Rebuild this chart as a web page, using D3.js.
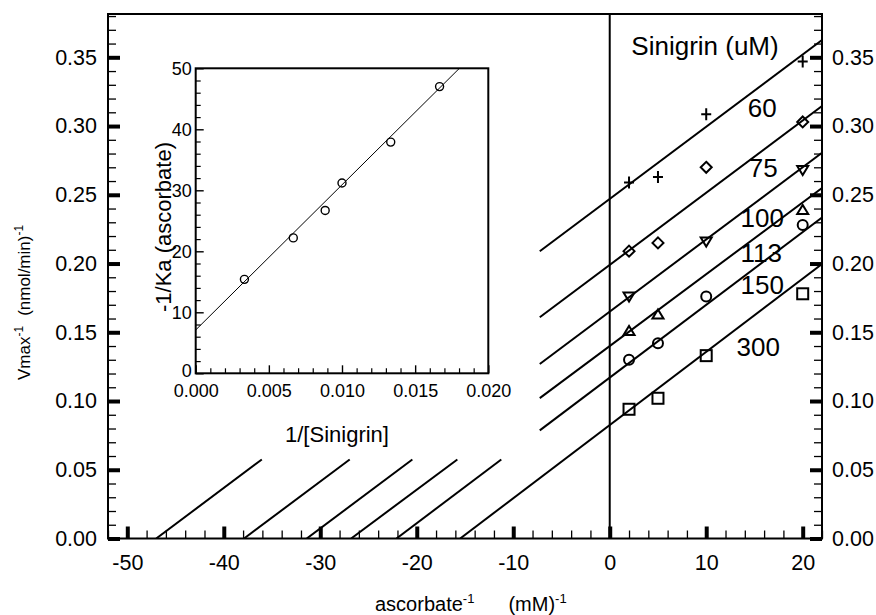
<!DOCTYPE html>
<html>
<head>
<meta charset="utf-8">
<script src="https://cdn.jsdelivr.net/npm/d3@7"></script>
<style>
  html, body { margin: 0; padding: 0; background: #fff; }
  svg { display: block; font-family: "Liberation Sans", Arial, Helvetica, sans-serif; }
  .axis path.domain { display: none; }
  .axis text { fill: #000; }
</style>
</head>
<body>
<svg id="chart" width="876" height="615"></svg>
<script>
// Sinigrin concentrations (uM), one fitted line per concentration
const sinigrin = [60, 75, 100, 113, 150, 300];
// Reciprocal ascorbate concentrations where rates were measured, (mM)^-1
const ascorbateInv = [2, 5, 10, 20];
// 1/V measured for each sinigrin level (null = no point)
const rate60  = [0.259, 0.263, 0.3085, 0.347];
const rate75  = [0.209, 0.215, 0.270, 0.303];
const rate100 = [0.176, null, 0.216, 0.268];
const rate113 = [0.151, 0.163, null, 0.239];
const rate150 = [0.130, 0.142, 0.176, 0.228];
const rate300 = [0.094, 0.102, 0.133, 0.178];
// Fitted lines: y-intercept (1/Vmax) and x-intercept (-1/Ka)
const lineIntercept = [0.247, 0.199, 0.165, 0.140, 0.117, 0.0825];
const lineXIntercept = [-47.0, -37.9, -31.4, -26.8, -22.1, -15.5];

// Secondary plot: -1/Ka against 1/[Sinigrin]
const insetX = [0.00333, 0.00667, 0.00885, 0.0100, 0.01333, 0.01667];
const insetY = [15.4, 22.2, 26.7, 31.2, 37.9, 47.0];
const insetFitIntercept = 7.1;
const insetFitSlope = 2380;

// Tick values
const xMajorTicks = [-50, -40, -30, -20, -10, 0, 10, 20];
const yMajorTicks = [0, 0.05, 0.10, 0.15, 0.20, 0.25, 0.30, 0.35];
const insetXTicks = [0, 0.005, 0.010, 0.015, 0.020];
const insetYTicks = [0, 10, 20, 30, 40, 50];

const rates = [rate60, rate75, rate100, rate113, rate150, rate300];
const markerKinds = ["plus", "diamond", "triDown", "triUp", "circle", "square"];

const svg = d3.select("#chart");
const defs = svg.append("defs");

// ---- main plot scales ----
const x = d3.scaleLinear().domain([-52, 22]).range([108, 822]);
const y = d3.scaleLinear().domain([0, 0.3815]).range([538.5, 14]);
const [x0, x1] = x.range();
const [yb, yt] = y.range();

const main = svg.append("g");

defs.append("clipPath").attr("id", "mainClip")
  .append("rect").attr("x", x0).attr("y", yt).attr("width", x1 - x0).attr("height", yb - yt);

// minor ticks
const minorX = d3.range(-52, 23, 2).filter(v => !xMajorTicks.includes(v));
const minorY = d3.range(0, 0.381, 0.01).map(v => +v.toFixed(2))
  .filter(v => !yMajorTicks.some(t => Math.abs(t - v) < 1e-9));

function styleTicks(g, w) {
  g.selectAll(".tick line").attr("stroke", "#000").attr("stroke-width", w);
}
const plain = d => String(d);   // hyphen minus, as printed on the axis

main.append("g").attr("class", "axis").attr("transform", `translate(0,${yb})`)
  .call(d3.axisBottom(x).tickValues(minorX).tickSize(-8).tickFormat(""))
  .call(g => styleTicks(g, 1.3));
main.append("g").attr("class", "axis").attr("transform", `translate(0,${yb})`)
  .call(d3.axisBottom(x).tickValues(xMajorTicks).tickSize(-12).tickPadding(16).tickFormat(plain))
  .call(g => styleTicks(g, 4))
  .call(g => g.selectAll("text").attr("font-size", 21.5));

[[d3.axisLeft, x0, 11], [d3.axisRight, x1, 10]].forEach(([ax, px, pad]) => {
  main.append("g").attr("class", "axis").attr("transform", `translate(${px},0)`)
    .call(ax(y).tickValues(minorY).tickSize(-8).tickFormat(""))
    .call(g => styleTicks(g, 1.3));
  main.append("g").attr("class", "axis").attr("transform", `translate(${px},0)`)
    .call(ax(y).tickValues(yMajorTicks).tickSize(-12).tickPadding(pad).tickFormat(d3.format(".2f")))
    .call(g => styleTicks(g, 4))
    .call(g => g.selectAll("text").attr("font-size", 21.5));
});

// frame
main.append("rect").attr("x", x0).attr("y", yt).attr("width", x1 - x0).attr("height", yb - yt)
  .attr("fill", "none").attr("stroke", "#000").attr("stroke-width", 2);

// vertical line at x = 0
main.append("line").attr("x1", x(0)).attr("x2", x(0)).attr("y1", yb).attr("y2", yt)
  .attr("stroke", "#000").attr("stroke-width", 2);

// fitted lines, interrupted where the secondary plot sits
const breakY = 0.0575;   // lower pieces stop here
const resumeX = -7.25;   // upper pieces start here
const lineG = main.append("g").attr("clip-path", "url(#mainClip)");
sinigrin.forEach((s, i) => {
  const b = lineIntercept[i], xi = lineXIntercept[i];
  const slope = b / -xi;
  const f = v => b + slope * v;
  const pieces = [];
  if (s === 300) {
    pieces.push([[xi, 0], [22, f(22)]]);
  } else {
    pieces.push([[xi, 0], [(breakY - b) / slope, breakY]]);
    pieces.push([[resumeX, f(resumeX)], [22, f(22)]]);
  }
  pieces.forEach(p => {
    lineG.append("path")
      .attr("d", d3.line().x(d => x(d[0])).y(d => y(d[1]))(p))
      .attr("fill", "none").attr("stroke", "#000").attr("stroke-width", 2);
  });
});

// markers
function marker(g, kind, cx, cy) {
  let el;
  if (kind === "plus") {
    el = g.append("path").attr("d", `M${cx - 5},${cy}H${cx + 5}M${cx},${cy - 6}V${cy + 6}`);
  } else if (kind === "diamond") {
    el = g.append("path").attr("d", `M${cx},${cy - 5.5}L${cx + 5.5},${cy}L${cx},${cy + 5.5}L${cx - 5.5},${cy}Z`);
  } else if (kind === "triDown") {
    el = g.append("path").attr("d", `M${cx - 5.5},${cy - 4}L${cx + 5.5},${cy - 4}L${cx},${cy + 5}Z`);
  } else if (kind === "triUp") {
    el = g.append("path").attr("d", `M${cx - 5.5},${cy + 4}L${cx + 5.5},${cy + 4}L${cx},${cy - 5}Z`);
  } else if (kind === "circle") {
    el = g.append("circle").attr("cx", cx).attr("cy", cy).attr("r", 5);
  } else {
    el = g.append("rect").attr("x", cx - 5.5).attr("y", cy - 5.5).attr("width", 11).attr("height", 11);
  }
  el.attr("fill", "none").attr("stroke", "#000").attr("stroke-width", 2);
}
const markG = main.append("g");
rates.forEach((r, i) => {
  r.forEach((v, j) => {
    if (v == null) return;
    marker(markG, markerKinds[i], x(ascorbateInv[j]), y(v));
  });
});

// series labels
const labelAt = [[15.8, 0.3065], [15.9, 0.263], [15.8, 0.2265], [15.7, 0.201], [15.8, 0.1778], [15.4, 0.133]];
sinigrin.forEach((s, i) => {
  main.append("text").attr("x", x(labelAt[i][0])).attr("y", y(labelAt[i][1]))
    .attr("text-anchor", "middle").attr("font-size", 26).text(s);
});
main.append("text").attr("x", 705).attr("y", 55).attr("text-anchor", "middle")
  .attr("font-size", 26).text("Sinigrin (uM)");

// axis titles
const xt = svg.append("text").attr("x", 375).attr("y", 611).attr("font-size", 20);
xt.append("tspan").text("ascorbate");
xt.append("tspan").attr("font-size", 13).attr("dy", -8).text("-1");
xt.append("tspan").attr("dx", 34).attr("dy", 8).text("(mM)");
xt.append("tspan").attr("font-size", 13).attr("dy", -8).text("-1");

const yt2 = svg.append("text").attr("transform", "translate(30,380) rotate(-90)").attr("font-size", 17);
yt2.append("tspan").text("Vmax");
yt2.append("tspan").attr("font-size", 12).attr("dy", -7).text("-1");
yt2.append("tspan").attr("dx", 10).attr("dy", 7).text("(nmol/min)");
yt2.append("tspan").attr("font-size", 12).attr("dy", -7).text("-1");

// ---- secondary plot ----
const xi = d3.scaleLinear().domain([0, 0.02]).range([195.7, 488.3]);
const yi = d3.scaleLinear().domain([0, 50]).range([373.3, 68.3]);
const inset = svg.append("g");
inset.append("rect").attr("x", 195.7).attr("y", 68.3).attr("width", 292.6).attr("height", 305)
  .attr("fill", "#fff").attr("stroke", "none");

const insetMinorX = d3.range(0, 0.0201, 0.001).map(v => +v.toFixed(3))
  .filter(v => !insetXTicks.some(t => Math.abs(t - v) < 1e-9));
const insetMinorY = d3.range(0, 51, 2).filter(v => !insetYTicks.includes(v));

inset.append("g").attr("class", "axis").attr("transform", `translate(0,373.3)`)
  .call(d3.axisBottom(xi).tickValues(insetMinorX).tickSize(-5).tickFormat(""))
  .call(g => styleTicks(g, 1.2));
inset.append("g").attr("class", "axis").attr("transform", `translate(0,373.3)`)
  .call(d3.axisBottom(xi).tickValues(insetXTicks).tickSize(-8).tickPadding(11).tickFormat(d3.format(".3f")))
  .call(g => styleTicks(g, 1.4))
  .call(g => g.selectAll("text").attr("font-size", 18));
inset.append("g").attr("class", "axis").attr("transform", `translate(195.7,0)`)
  .call(d3.axisLeft(yi).tickValues(insetMinorY).tickSize(-5).tickFormat(""))
  .call(g => styleTicks(g, 1.2));
inset.append("g").attr("class", "axis").attr("transform", `translate(195.7,0)`)
  .call(d3.axisLeft(yi).tickValues(insetYTicks).tickSize(-8).tickPadding(4).tickFormat(d3.format("d")))
  .call(g => styleTicks(g, 1.4))
  .call(g => g.selectAll("text").attr("font-size", 18)
    .filter(d => d === 0).attr("dy", "0.2em"));

defs.append("clipPath").attr("id", "insetClip")
  .append("rect").attr("x", 195.7).attr("y", 68.3).attr("width", 292.6).attr("height", 305);
inset.append("path")
  .attr("clip-path", "url(#insetClip)")
  .attr("d", d3.line().x(d => xi(d)).y(d => yi(insetFitIntercept + insetFitSlope * d))([0, 0.021]))
  .attr("fill", "none").attr("stroke", "#000").attr("stroke-width", 1);

insetX.forEach((v, i) => {
  inset.append("circle").attr("cx", xi(v)).attr("cy", yi(insetY[i])).attr("r", 4)
    .attr("fill", "none").attr("stroke", "#000").attr("stroke-width", 1.4);
});

inset.append("rect").attr("x", 195.7).attr("y", 68.3).attr("width", 292.6).attr("height", 305)
  .attr("fill", "none").attr("stroke", "#000").attr("stroke-width", 2);

inset.append("text").attr("x", 337).attr("y", 442).attr("text-anchor", "middle")
  .attr("font-size", 22).text("1/[Sinigrin]");
inset.append("text").attr("transform", "translate(171,227) rotate(-90)").attr("text-anchor", "middle")
  .attr("font-size", 22).text("-1/Ka (ascorbate)");
</script>
</body>
</html>
